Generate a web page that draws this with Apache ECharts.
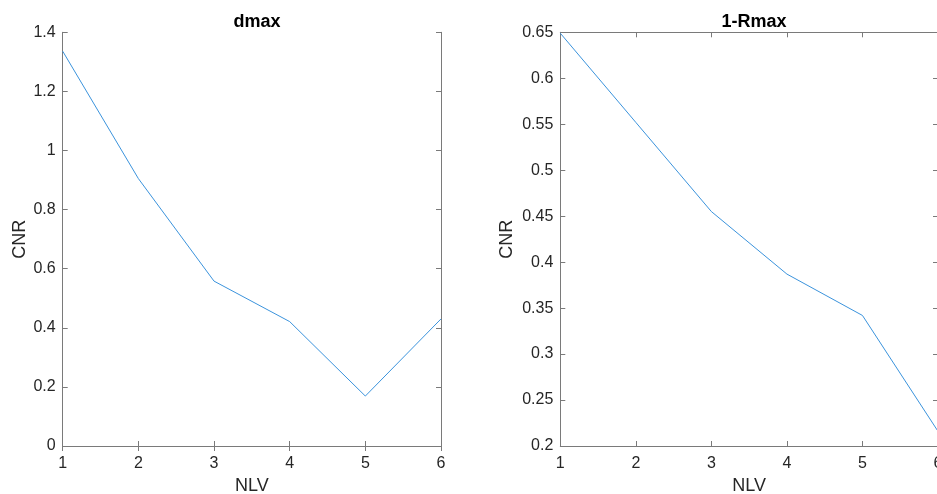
<!DOCTYPE html>
<html>
<head>
<meta charset="utf-8">
<script src="https://cdn.jsdelivr.net/npm/echarts@6/dist/echarts.min.js"></script>
<style>
  html, body { margin: 0; padding: 0; background: #fff; }
  #chart { width: 937px; height: 494px; }
</style>
</head>
<body>
<div id="chart"></div>
<script>
// data
var nlv = [1, 2, 3, 4, 5, 6];
var dmaxCnr = [1.336, 0.905, 0.558, 0.421, 0.169, 0.430];
var rmaxCnr = [0.649, 0.552, 0.455, 0.387, 0.342, 0.216];

var titles = ['dmax', '1-Rmax'];
var xName = 'NLV';
var yName = 'CNR';

var FONT = '"Liberation Sans", Arial, Helvetica, sans-serif';
var TXT = '#262626';
var AX = '#7a7a7a';
var LINE = '#3b93dc';

var me = {};

// pair x with y for a value axis
function pairs(xs, ys) {
  var out = [];
  for (var i = 0; i < xs.length; i++) out.push([xs[i], ys[i]]);
  return out;
}

// one box of axes: bottom/left carry labels, top/right are just the frame
function xAxes(grid) {
  var base = {
    type: 'value', gridIndex: grid, min: 1, max: 6, interval: 1,
    splitLine: { show: false },
    axisLine: { show: true, lineStyle: { color: AX, width: 1 } },
    axisTick: { show: true, inside: true, length: 5, lineStyle: { color: AX } }
  };
  var bottom = Object.assign({}, base, {
    position: 'bottom',
    name: xName, nameLocation: 'middle', nameGap: 29,
    nameTextStyle: { fontFamily: FONT, fontSize: 18, color: TXT },
    axisLabel: { fontFamily: FONT, fontSize: 16, color: TXT, margin: 10, showMinLabel: true, showMaxLabel: true }
  });
  var top = Object.assign({}, base, { position: 'top', axisLabel: { show: false } });
  return [bottom, top];
}

function yAxes(grid, min, max, step) {
  var base = {
    type: 'value', gridIndex: grid, min: min, max: max, interval: step,
    splitLine: { show: false },
    axisLine: { show: true, lineStyle: { color: AX, width: 1 } },
    axisTick: { show: true, inside: true, length: 5, lineStyle: { color: AX } }
  };
  var left = Object.assign({}, base, {
    position: 'left',
    name: yName, nameLocation: 'middle', nameGap: grid === 0 ? 34 : 44,
    nameTextStyle: { fontFamily: FONT, fontSize: 18, color: TXT },
    axisLabel: { fontFamily: FONT, fontSize: 16, color: TXT, margin: 7 }
  });
  var right = Object.assign({}, base, { position: 'right', axisLabel: { show: false } });
  return [left, right];
}

me.chart = echarts.init(document.getElementById('chart'), null, { renderer: 'canvas' });

var option = {
  animation: false,
  backgroundColor: '#ffffff',
  title: [
    { text: titles[0], left: 252, top: 8, textAlign: 'center',
      textStyle: { fontFamily: FONT, fontSize: 18, fontWeight: 'bold', color: '#000' } },
    { text: titles[1], left: 749, top: 8, textAlign: 'center',
      textStyle: { fontFamily: FONT, fontSize: 18, fontWeight: 'bold', color: '#000' } }
  ],
  grid: [
    { left: 62.7, top: 32.3, width: 378.3, height: 413.7, containLabel: false, outerBoundsMode: 'none' },
    { left: 560.3, top: 32.3, width: 377.7, height: 413.7, containLabel: false, outerBoundsMode: 'none' }
  ],
  xAxis: xAxes(0).concat(xAxes(1)),
  yAxis: yAxes(0, 0, 1.4, 0.2).concat(yAxes(1, 0.2, 0.65, 0.05)),
  series: [
    { type: 'line', xAxisIndex: 0, yAxisIndex: 0, data: pairs(nlv, dmaxCnr),
      symbol: 'none', lineStyle: { color: LINE, width: 1 } },
    { type: 'line', xAxisIndex: 2, yAxisIndex: 2, data: pairs(nlv, rmaxCnr),
      symbol: 'none', lineStyle: { color: LINE, width: 1 } }
  ]
};

me.chart.setOption(option);
</script>
</body>
</html>
